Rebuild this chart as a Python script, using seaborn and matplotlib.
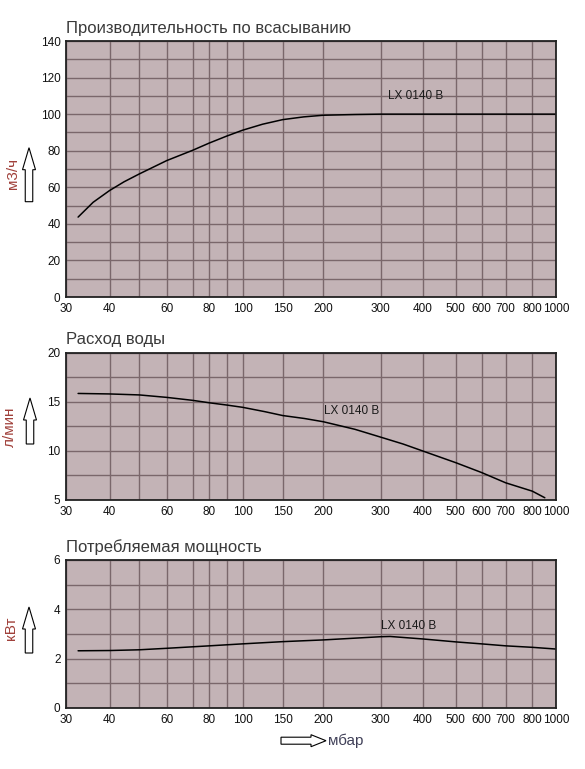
import numpy as np
import matplotlib
matplotlib.use('Agg')
import matplotlib.pyplot as plt
from matplotlib.patches import FancyArrow
from matplotlib.ticker import FixedLocator
import seaborn as sns

# --- data ---
suction_mbar = [32.5, 35.9, 40, 44.6, 50, 60, 70, 80, 90, 100, 122.5, 150, 174, 200, 250, 300,
                400, 500, 600, 700, 800, 1000]
suction_m3h = [43.7, 51.8, 58.2, 63.0, 67.3, 74.6, 80.2, 84.2, 88.0, 91.2, 94.5, 97.0, 98.5, 99.4,
               99.8, 100, 100, 100, 100, 100, 100, 100]

water_mbar = [32.5, 40, 50, 60, 70, 80, 90, 100, 125, 150, 175, 200, 250, 300, 350, 400, 500,
              600, 700, 800, 900]
water_lmin = [15.85, 15.8, 15.7, 15.45, 15.15, 14.9, 14.67, 14.44, 14.0, 13.6, 13.3, 12.97, 12.2,
              11.4, 10.7, 10.0, 8.8, 7.8, 6.75, 5.9, 5.23]

power_mbar = [32.5, 40, 50, 60, 80, 100, 150, 200, 300, 320, 400, 500, 600, 700, 800, 1000]
power_kw = [2.32, 2.33, 2.36, 2.42, 2.52, 2.6, 2.69, 2.76, 2.89, 2.9, 2.8, 2.68, 2.6, 2.52, 2.46, 2.39]

x_ticks = [30, 40, 60, 80, 100, 150, 200, 300, 400, 500, 600, 700, 800, 1000]
x_minor = [50, 70, 90]

titles = ["Производительность по всасыванию", "Расход воды", "Потребляемая мощность"]
ylabels = ["м3/ч", "л/мин", "кВт"]
curve_label = "LX 0140 B"
xlabel = "мбар"

# the printed chart uses an uneven, roughly logarithmic pressure axis
grid_vals = [30, 40, 50, 60, 70, 80, 90, 100, 150, 200, 300, 400, 500, 600, 700, 800, 1000]
grid_px = [66, 109.5, 139.3, 166.7, 192.5, 209.3, 226.7, 242.5, 282.7, 323.3,
           380.7, 422.5, 455.8, 481.5, 505.7, 532.3, 556]
lk = np.log10(grid_vals)
lk = np.concatenate([[lk[0] - 10], lk, [lk[-1] + 10]])
pk = np.concatenate([[grid_px[0] - 3300], grid_px, [grid_px[-1] + 3300]])


def fwd(v):
    v = np.clip(np.asarray(v, dtype=float), 1e-9, None)
    return np.interp(np.log10(v), lk, pk)


def inv(p):
    return 10 ** np.interp(np.asarray(p, dtype=float), pk, lk)


sns.set_theme(style='white')
plt.rcParams['font.family'] = ['Liberation Sans', 'DejaVu Sans']

BG = '#c3b3b6'
GRID = '#7a676b'

fig = plt.figure(figsize=(5.85, 7.69), dpi=100)
fig.patch.set_facecolor('white')

W, H = 585, 769


def add_axes_px(left, top, right, bottom):
    return fig.add_axes([left / W, 1 - bottom / H, (right - left) / W, (bottom - top) / H])


ax1 = add_axes_px(66, 41, 556, 297)
ax2 = add_axes_px(66, 352.7, 556, 500)
ax3 = add_axes_px(66, 560, 556, 708)

panels = [
    (ax1, suction_mbar, suction_m3h, (0, 140), [0, 20, 40, 60, 80, 100, 120, 140],
     [10, 30, 50, 70, 90, 110, 130], (0.714, 0.785)),
    (ax2, water_mbar, water_lmin, (5, 20), [5, 10, 15, 20], [7.5, 12.5, 17.5], (0.583, 0.606)),
    (ax3, power_mbar, power_kw, (0, 6), [0, 2, 4, 6], [1, 3, 5], (0.70, 0.554)),
]

for i, (ax, xs, ys, ylim, yt, ym, lab_pos) in enumerate(panels):
    ax.set_facecolor(BG)
    sns.lineplot(x=xs, y=ys, ax=ax, color='black', lw=1.1)
    ax.set_xscale('function', functions=(fwd, inv))
    ax.set_xlim(30, 1000)
    ax.set_ylim(*ylim)
    ax.xaxis.set_major_locator(FixedLocator(x_ticks))
    ax.xaxis.set_minor_locator(FixedLocator(x_minor))
    ax.set_xticklabels([str(t) for t in x_ticks])
    ax.yaxis.set_major_locator(FixedLocator(yt))
    ax.yaxis.set_minor_locator(FixedLocator(ym))
    ax.set_yticklabels([str(t) for t in yt])
    ax.grid(which='both', color=GRID, lw=1.0)
    ax.set_axisbelow(True)
    ax.tick_params(which='both', length=0, labelsize=8.5, labelcolor='#111111')
    ax.tick_params(axis='x', pad=4)
    ax.tick_params(axis='y', pad=4)
    for s in ax.spines.values():
        s.set_color('#222222')
        s.set_linewidth(1.3)
    ax.set_xlabel('')
    ax.set_ylabel('')
    ax.set_title(titles[i], loc='left', fontsize=12, color='#3a3a3a', pad=6)
    ax.text(lab_pos[0], lab_pos[1], curve_label, transform=ax.transAxes,
            ha='center', va='center', fontsize=8.5, color='#1a1a1a')

# y labels with hollow up-arrows
ylab_pos = [(13, 173), (10, 427), (11, 628)]
arrow_pos = [(29, 201.7, 147.7), (30, 444, 398), (29, 653, 607)]
for txt, (lx, ly), (axp, y0, y1) in zip(ylabels, ylab_pos, arrow_pos):
    fig.text(lx / W, 1 - ly / H, txt, rotation=90, ha='center', va='center',
             fontsize=11, color='#a0403a')
    fig.add_artist(FancyArrow(axp / 100, (H - y0) / 100, 0, (y0 - y1) / 100,
                              width=0.075, head_width=0.13, head_length=0.22,
                              length_includes_head=True, fc='white', ec='black', lw=0.8,
                              transform=fig.dpi_scale_trans))

# x label with hollow right-arrow
fig.add_artist(FancyArrow(2.81, (H - 740.7) / 100, 0.45, 0,
                          width=0.07, head_width=0.12, head_length=0.15,
                          length_includes_head=True, fc='white', ec='black', lw=0.8,
                          transform=fig.dpi_scale_trans))
fig.text(328 / W, 1 - 741 / H, xlabel, ha='left', va='center', fontsize=11, color='#404058')

fig.savefig('out.png', dpi=100)
